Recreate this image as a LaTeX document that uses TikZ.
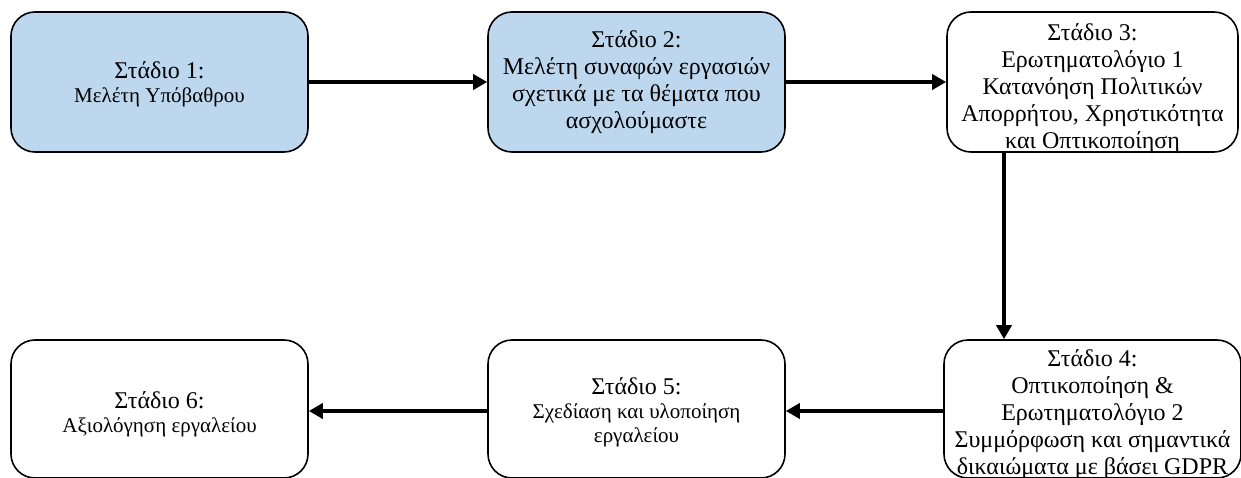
\documentclass[tikz,border=0pt]{standalone}
\usepackage{fontspec}
\setmainfont{Liberation Serif}
\usetikzlibrary{arrows.meta}
\definecolor{stageblue}{RGB}{189,215,238}

\begin{document}
\begin{tikzpicture}[x=1pt,y=1pt,
  stage/.style={draw,line width=1.6pt,rounded corners=24pt,minimum width=297pt,
    minimum height=140pt,inner xsep=0pt,inner ysep=2pt,align=center,
    font=\fontsize{24}{27}\selectfont},
  narrow/.style={stage,minimum width=291pt},
  low/.style={stage,minimum height=138pt},
  done/.style={stage,fill=stageblue},
  small/.style={font=\fontsize{21}{24}\selectfont},
  textbox/.style 2 args={text height=#1,text depth=#2},
  flow/.style={line width=4pt,-{Triangle[length=14pt,width=15pt]}}]
\def\xa{159.5}
\def\xb{636.5}
\def\xc{1092.5}
\def\yt{395}
\def\yb{68}
\def\head#1{{\fontsize{24}{27}\selectfont #1}}
  \useasboundingbox (0,0) rectangle (1241,477);

  \node[done,small,textbox={44pt}{2pt}] (s1) at (\xa,\yt) {\head{Στάδιο 1:}\\ Μελέτη Υπόβαθρου};
  \node[done] (s2) at (\xb,\yt) {Στάδιο 2:\\ Μελέτη συναφών εργασιών\\
    σχετικά με τα θέματα που\\ ασχολούμαστε};
  \node[narrow,textbox={133pt}{-2pt}] (s3) at (\xc,\yt) {Στάδιο 3:\\ Ερωτηματολόγιο 1\\
    Κατανόηση Πολιτικών\\ Απορρήτου, Χρηστικότητα\\ και Οπτικοποίηση};
  \node[narrow,low,textbox={131pt}{0pt}] (s4) at (\xc,\yb) {Στάδιο 4:\\ Οπτικοποίηση \&\\
    Ερωτηματολόγιο 2\\ Συμμόρφωση και σημαντικά\\ δικαιώματα με βάσει GDPR};
  \node[low,small,textbox={68pt}{2pt}] (s5) at (\xb,\yb) {\head{Στάδιο 5:}\\
    Σχεδίαση και υλοποίηση\\ εργαλείου};
  \node[low,small,textbox={47pt}{-1pt}] (s6) at (\xa,\yb) {\head{Στάδιο 6:}\\ Αξιολόγηση εργαλείου};

  \draw[flow] (s1) -- (s2);
  \draw[flow] (s2) -- (s3);
  \draw[flow] ([xshift=-88.5pt]s3.south) -- ([xshift=-88.5pt]s4.north);
  \draw[flow] ([yshift=-2pt]s4.west) -- ([yshift=-2pt]s5.east);
  \draw[flow] ([yshift=-2pt]s5.west) -- ([yshift=-2pt]s6.east);
\end{tikzpicture}
\end{document}
